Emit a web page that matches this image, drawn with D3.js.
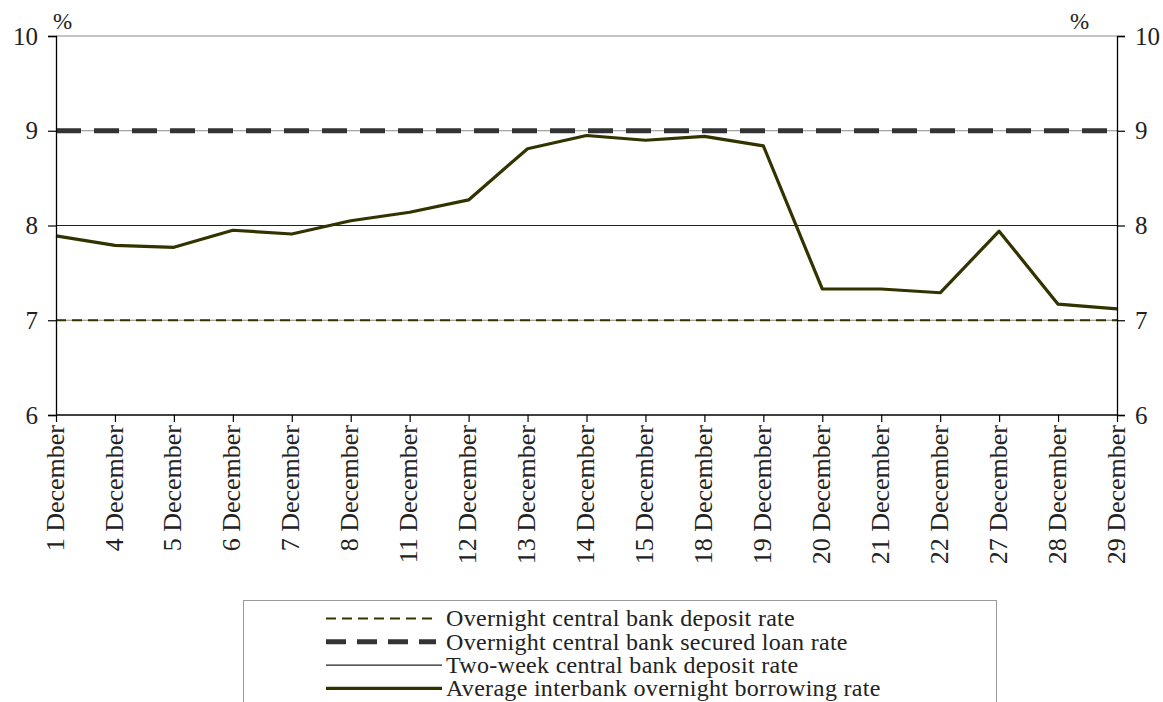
<!DOCTYPE html>
<html>
<head>
<meta charset="utf-8">
<script src="https://cdn.jsdelivr.net/npm/d3@7"></script>
<style>
  html, body { margin: 0; padding: 0; background: #fff; }
  svg { display: block; }
  text { font-family: "Liberation Serif", "DejaVu Serif", serif; fill: #222; }
</style>
</head>
<body>
<svg id="chart" width="1163" height="702"></svg>
<script>
// Trading days in December
const days = ["1 December", "4 December", "5 December", "6 December", "7 December",
  "8 December", "11 December", "12 December", "13 December", "14 December",
  "15 December", "18 December", "19 December", "20 December", "21 December",
  "22 December", "27 December", "28 December", "29 December"];

// Average interbank overnight borrowing rate (%)
const interbankRate = [7.89, 7.79, 7.77, 7.95, 7.91, 8.05, 8.14, 8.27, 8.81, 8.95,
  8.90, 8.94, 8.84, 7.33, 7.33, 7.29, 7.94, 7.17, 7.12];

// Central bank policy rates (%), constant over the month
const overnightDepositRate = 7;
const securedLoanRate = 9;
const twoWeekDepositRate = 8;

const yTicks = [6, 7, 8, 9, 10];

const legendLabels = [
  "Overnight central bank deposit rate",
  "Overnight central bank secured loan rate",
  "Two-week central bank deposit rate",
  "Average interbank overnight borrowing rate"
];

const FONT = "'Liberation Serif', 'DejaVu Serif', serif";
const svg = d3.select("#chart");
const plotLeft = 56, plotRight = 1117, plotTop = 36, plotBottom = 415;

const x = d3.scalePoint().domain(days).range([plotLeft, plotRight]);
const y = d3.scaleLinear().domain([6, 10]).range([plotBottom, plotTop]);

// Horizontal gridlines
svg.append("g").selectAll("line").data(yTicks.slice(1)).join("line")
  .attr("x1", plotLeft).attr("x2", plotRight)
  .attr("y1", d => y(d)).attr("y2", d => y(d))
  .attr("stroke", "#8a8a8a").attr("stroke-width", 1);

// Policy rate lines and interbank rate
const flat = (v) => days.map(d => ({ d, v }));
const line = d3.line().x(p => x(p.d)).y(p => y(p.v));

const styles = [
  { stroke: "#333300", width: 2, dash: "10,6" },
  { stroke: "#333333", width: 5, dash: "25,13" },
  { stroke: "#222222", width: 1.2, dash: null },
  { stroke: "#333300", width: 3.2, dash: null }
];

const series = [flat(overnightDepositRate), flat(securedLoanRate), flat(twoWeekDepositRate),
  days.map((d, i) => ({ d, v: interbankRate[i] }))];

series.forEach((s, i) => {
  svg.append("path").datum(s)
    .attr("d", line)
    .attr("fill", "none")
    .attr("stroke", styles[i].stroke)
    .attr("stroke-width", styles[i].width)
    .attr("stroke-dasharray", styles[i].dash)
    .attr("stroke-linejoin", "round");
});

// Axes
const fmt = d3.format("d");
const yLeft = d3.axisLeft(y).tickValues(yTicks).tickFormat(fmt).tickSize(8).tickPadding(10);
const yRight = d3.axisRight(y).tickValues(yTicks).tickFormat(fmt).tickSize(8).tickPadding(10);
const xAxis = d3.axisBottom(x).tickSize(7).tickPadding(8);

function styleAxis(g) {
  g.attr("font-family", null).attr("font-size", null);
  g.select(".domain").attr("stroke", "#000").attr("stroke-width", 1.3);
  g.selectAll(".tick line").attr("stroke", "#000").attr("stroke-width", 1.2);
  g.selectAll("text").style("font-family", FONT)
    .style("font-size", "25px").attr("fill", "#222");
}

svg.append("g").attr("transform", `translate(${plotLeft},0)`).call(yLeft).call(styleAxis);
svg.append("g").attr("transform", `translate(${plotRight},0)`).call(yRight).call(styleAxis);

const gx = svg.append("g").attr("transform", `translate(0,${plotBottom})`).call(xAxis).call(styleAxis);
gx.selectAll(".domain").attr("d", `M${plotLeft},0H${plotRight}`);
gx.selectAll(".tick text")
  .attr("transform", "rotate(-90)")
  .attr("text-anchor", "end")
  .attr("x", -10).attr("y", -2).attr("dy", "0.35em")
  .style("font-size", "26px");

// Unit labels
svg.append("text").attr("x", 53).attr("y", 29).text("%").style("font-family", FONT).style("font-size", "23px");
svg.append("text").attr("x", 1070).attr("y", 29).text("%").style("font-family", FONT).style("font-size", "23px");

// Legend
const lg = svg.append("g");
lg.append("rect").attr("x", 243.5).attr("y", 600.5).attr("width", 753).attr("height", 120)
  .attr("fill", "#fff").attr("stroke", "#9a9a9a").attr("stroke-width", 1);

legendLabels.forEach((label, i) => {
  const cy = 618.5 + i * 23.3;
  lg.append("line")
    .attr("x1", 326).attr("x2", i < 2 ? 436 : 442)
    .attr("y1", cy).attr("y2", cy)
    .attr("stroke", styles[i].stroke)
    .attr("stroke-width", i === 2 ? 1.2 : styles[i].width)
    .attr("stroke-dasharray", i === 0 ? "10,6" : (i === 1 ? "20,11" : null));
  lg.append("text").attr("x", 446).attr("y", cy).attr("dy", "0.33em")
    .style("font-family", FONT).style("font-size", "24px")
    .attr("letter-spacing", "0.3px").text(label);
});
</script>
</body>
</html>
